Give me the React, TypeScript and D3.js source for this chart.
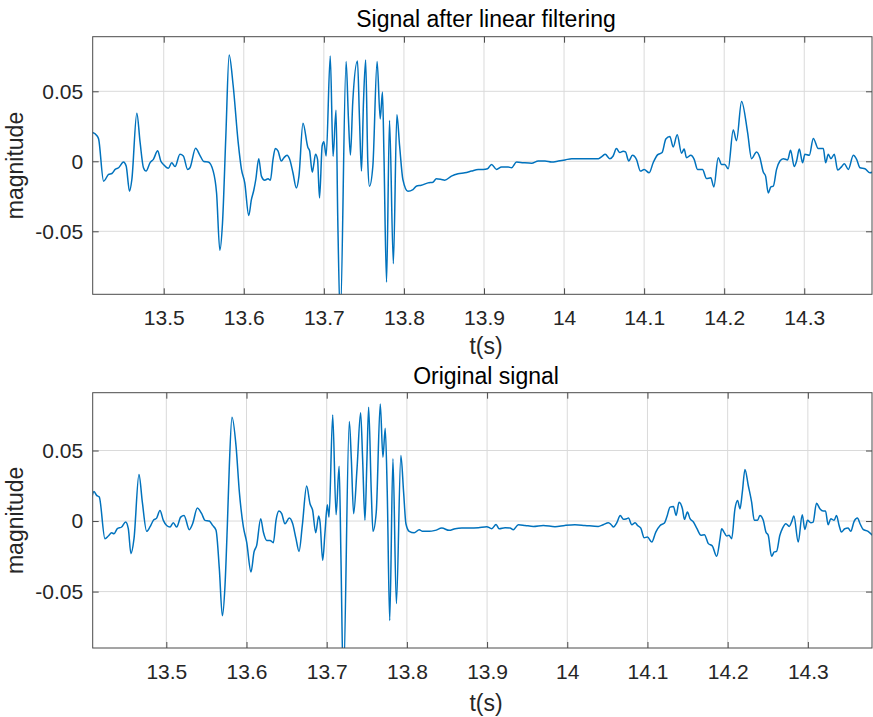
import React, { useRef, useEffect } from "react";
import * as d3 from "d3";

// (time in s, magnitude)
const filteredTime = [
  13.4104, 13.4166, 13.4187, 13.4249, 13.4311, 13.4353, 13.4394, 13.4436, 13.4498, 13.4531,
  13.4573, 13.4602, 13.4664, 13.4705, 13.4747, 13.478, 13.483, 13.4871, 13.4925, 13.4963,
  13.4996, 13.5058, 13.51, 13.5141, 13.5203, 13.5245, 13.5299, 13.5328, 13.5398, 13.5452,
  13.5502, 13.5556, 13.5618, 13.566, 13.5701, 13.5734, 13.5776, 13.5817, 13.5867, 13.593,
  13.5971, 13.6012, 13.6062, 13.6095, 13.6125, 13.615, 13.6187, 13.622, 13.6261, 13.6303,
  13.6332, 13.6365, 13.6394, 13.6427, 13.6469, 13.6502, 13.654, 13.6573, 13.6614, 13.6656,
  13.6689, 13.6739, 13.6801, 13.6822, 13.6855, 13.6871, 13.6896, 13.6921, 13.6946, 13.6979,
  13.7, 13.7029, 13.708, 13.7115, 13.7152, 13.7174, 13.7205, 13.7278, 13.7307, 13.7332,
  13.7361, 13.742, 13.7445, 13.747, 13.7495, 13.7522, 13.7549, 13.757, 13.7612, 13.7665,
  13.7704, 13.7732, 13.775, 13.7783, 13.782, 13.7868, 13.7912, 13.7946, 13.7987, 13.805,
  13.8113, 13.8154, 13.8217, 13.8301, 13.8363, 13.8405, 13.8468, 13.8509, 13.8593, 13.8676,
  13.876, 13.8843, 13.8927, 13.899, 13.9044, 13.9094, 13.9157, 13.9219, 13.9303, 13.9344,
  13.9407, 13.9491, 13.9595, 13.9678, 13.9762, 13.9845, 13.9929, 14.0013, 14.0096, 14.018,
  14.0263, 14.043, 14.0472, 14.0514, 14.0571, 14.0613, 14.0654, 14.0696, 14.0738, 14.0767,
  14.0808, 14.0854, 14.0904, 14.0954, 14.1, 14.1063, 14.1113, 14.1167, 14.1225, 14.1271,
  14.1321, 14.1363, 14.1413, 14.1467, 14.15, 14.1529, 14.1583, 14.1625, 14.1667, 14.1729,
  14.1779, 14.1833, 14.1871, 14.1925, 14.1967, 14.2008, 14.205, 14.2113, 14.2154, 14.2217,
  14.2292, 14.2342, 14.2404, 14.2446, 14.2488, 14.2517, 14.255, 14.2583, 14.2613, 14.2654,
  14.2696, 14.2738, 14.2792, 14.2829, 14.2875, 14.2904, 14.2938, 14.2979, 14.3008, 14.3063,
  14.3113, 14.3175, 14.3238, 14.3267, 14.33, 14.3333, 14.3375, 14.3417, 14.3467, 14.35,
  14.355, 14.3613, 14.3654, 14.3696, 14.3758, 14.3821, 14.3858,
];
const filteredMag = [
  0.0207, 0.0183, 0.0159, -0.0142, -0.0094, -0.0087, -0.0058, -0.0046, -0.0005, -0.0034,
  -0.0214, -0.013, 0.0344, 0.0135, -0.0046, -0.007, -0.001, 0.0014, 0.0075, 0.0002,
  -0.0022, -0.005, -0.001, -0.0038, 0.005, 0.0038, -0.0058, -0.0046, 0.0094, 0.0043,
  -0.0002, -0.0005, -0.007, -0.0226, -0.0635, -0.0442, 0.0183, 0.076, 0.0543, 0.0135,
  -0.0058, -0.0154, -0.0387, -0.0274, -0.0207, -0.013, 0.0019, -0.0106, -0.0135, -0.0125,
  -0.0135, 0.0014, 0.0091, 0.0075, 0.0002, 0.0026, 0.0043, 0.0014, -0.0082, -0.019,
  -0.0106, 0.0272, 0.0099, 0.0075, -0.0077, -0.0034, 0.005, 0.0014, -0.0262, 0.0111,
  0.0139, 0.0038, 0.0752, 0.0036, 0.0365, -0.0418, -0.112, 0.0712, 0.0303, 0.0045,
  0.0423, 0.0716, 0.0303, -0.007, 0.0423, 0.0724, -0.001, -0.0178, -0.0034, 0.0712,
  0.0303, 0.0495, 0.0063, -0.0863, 0.0291, -0.0731, 0.0332, 0.0111, -0.013, -0.0214,
  -0.0202, -0.0178, -0.0171, -0.0154, -0.0149, -0.0125, -0.013, -0.0135, -0.0106, -0.0089,
  -0.0082, -0.007, -0.0058, -0.0058, -0.0053, -0.0022, -0.0058, -0.0041, -0.0041, -0.0046,
  -0.0005, -0.001, -0.0014, 0.0002, 0.0002, -0.0005, 0.0002, 0.001, 0.0019, 0.0019,
  0.0019, 0.0019, 0.0034, 0.005, 0.0019, 0.0038, 0.0091, 0.0063, 0.0072, 0.0067,
  0.0002, 0.0043, 0.0014, -0.007, -0.0058, -0.0082, -0.001, 0.0046, 0.0063, 0.0159,
  0.0178, 0.0103, 0.019, 0.0058, 0.0087, 0.0026, 0.0043, 0.0014, -0.0058, -0.0058,
  -0.0123, -0.0118, -0.0183, 0.0026, -0.0022, -0.0022, -0.0053, 0.0224, 0.0147, 0.0428,
  0.0207, 0.0019, 0.0067, 0.0026, -0.0077, -0.0106, -0.0226, -0.0183, -0.0178, -0.0058,
  0.0002, 0.0019, 0.001, 0.0079, -0.0038, 0.0002, 0.0087, -0.001, 0.005, 0.0043,
  0.0163, 0.0091, 0.0091, -0.001, 0.005, 0.0019, 0.005, -0.0063, -0.0038, -0.0017,
  -0.0058, 0.0043, 0.0014, -0.0046, -0.0053, -0.0082, -0.0077,
];

const originalTime = [
  13.4069, 13.4098, 13.4131, 13.4164, 13.4235, 13.4277, 13.4318, 13.4347, 13.4389, 13.4443,
  13.4493, 13.4526, 13.4559, 13.4597, 13.4659, 13.4701, 13.4755, 13.4796, 13.4838, 13.4879,
  13.4921, 13.4963, 13.5004, 13.5046, 13.5087, 13.5129, 13.5179, 13.5221, 13.5287, 13.5328,
  13.5387, 13.5441, 13.5482, 13.5536, 13.5578, 13.562, 13.5661, 13.5699, 13.5732, 13.5761,
  13.5786, 13.5819, 13.5869, 13.5911, 13.5961, 13.6002, 13.6056, 13.6094, 13.6127, 13.6177,
  13.621, 13.6252, 13.6293, 13.6335, 13.6368, 13.6405, 13.6439, 13.648, 13.6534, 13.6576,
  13.6617, 13.6655, 13.6696, 13.675, 13.6792, 13.6825, 13.6863, 13.69, 13.6917, 13.695,
  13.6979, 13.7008, 13.7029, 13.7075, 13.7117, 13.7155, 13.7178, 13.7207, 13.7282, 13.7307,
  13.7336, 13.7378, 13.7423, 13.7448, 13.7477, 13.7502, 13.7523, 13.7556, 13.7577, 13.7618,
  13.7668, 13.7701, 13.773, 13.7755, 13.7786, 13.7826, 13.7869, 13.7925, 13.7959, 13.7988,
  13.8029, 13.8091, 13.8154, 13.8195, 13.8278, 13.8353, 13.8436, 13.8527, 13.8602, 13.8685,
  13.8788, 13.8892, 13.8996, 13.9058, 13.9112, 13.915, 13.9224, 13.9287, 13.9328, 13.939,
  13.9473, 13.9577, 13.9701, 13.9847, 13.997, 14.0095, 14.022, 14.0386, 14.0448, 14.0514,
  14.0548, 14.0577, 14.0618, 14.066, 14.0701, 14.0743, 14.0763, 14.0805, 14.0846, 14.0876,
  14.0917, 14.0959, 14.1, 14.1054, 14.1104, 14.1158, 14.1212, 14.1241, 14.1282, 14.1324,
  14.1357, 14.1394, 14.1436, 14.1461, 14.1498, 14.1531, 14.1573, 14.1614, 14.1668, 14.171,
  14.1759, 14.1809, 14.1863, 14.1905, 14.1925, 14.1954, 14.1988, 14.2017, 14.205, 14.2091,
  14.2124, 14.2154, 14.2183, 14.2216, 14.2257, 14.2299, 14.2332, 14.2373, 14.2402, 14.2444,
  14.2477, 14.2506, 14.2548, 14.2581, 14.261, 14.2651, 14.2685, 14.2726, 14.2768, 14.2797,
  14.2826, 14.288, 14.293, 14.2963, 14.2996, 14.3037, 14.3066, 14.3108, 14.315, 14.3191,
  14.322, 14.3253, 14.3286, 14.3328, 14.3357, 14.339, 14.3419, 14.3461, 14.3502, 14.3535,
  14.3577, 14.3618, 14.3651, 14.3689, 14.3751, 14.3805,
];
const originalMag = [
  0.0163, 0.021, 0.0182, 0.017, -0.0125, -0.0106, -0.0083, -0.009, -0.0054, -0.0042,
  -0.0007, -0.0054, -0.0231, -0.0125, 0.033, 0.0134, -0.0073, -0.0042, 0.0005, 0.0021,
  0.0075, 0.0005, -0.0031, -0.0042, -0.0012, -0.0042, 0.0028, 0.004, -0.0061, -0.0019,
  0.0092, 0.0052, 0.0005, 0, -0.0031, -0.0066, -0.0337, -0.0672, -0.0455, -0.0031,
  0.0394, 0.0736, 0.0535, 0.0205, -0.0042, -0.0149, -0.0361, -0.0219, -0.0172, 0.0017,
  -0.0078, -0.0137, -0.0137, -0.0153, 0.0005, 0.0071, 0.0052, -0.0019, 0.0021, -0.0019,
  -0.0125, -0.0215, -0.0031, 0.0248, 0.0123, 0.0075, -0.0083, 0.0035, -0.0007, -0.0278,
  -0.0078, 0.0116, 0.0028, 0.0752, 0.0045, 0.0389, -0.0267, -0.115, 0.0705, 0.0441,
  0.0052, 0.037, 0.0767, 0.0441, 0.0005, 0.0441, 0.0807, 0.0205, -0.0073, 0.0064,
  0.083, 0.0453, 0.0658, 0.0205, -0.0705, 0.0441, -0.0585, 0.0465, 0.0205, -0.0019,
  -0.0073, -0.0083, -0.0061, -0.0073, -0.0073, -0.0066, -0.005, -0.0066, -0.0054, -0.005,
  -0.005, -0.0047, -0.004, -0.0054, -0.0024, -0.0054, -0.0047, -0.005, -0.0061, -0.0026,
  -0.0031, -0.0038, -0.0031, -0.004, -0.0031, -0.0026, -0.0031, -0.0038, -0.0026, -0.0012,
  -0.0026, -0.0042, -0.0012, 0.004, 0.0012, 0.0017, 0.0021, -0.0026, -0.0012, -0.0031,
  -0.005, -0.0118, -0.0113, -0.0149, -0.0078, -0.0031, -0.0014, 0.0028, 0.0099, 0.0104,
  0.004, 0.0134, 0.0087, 0.0012, 0.0064, 0.0017, -0.0007, -0.005, -0.0101, -0.0097,
  -0.016, -0.0177, -0.025, -0.0125, -0.0054, -0.0078, -0.0106, -0.0101, -0.0125, 0.0087,
  0.0146, 0.0087, 0.0205, 0.0366, 0.0252, 0.0134, 0.0005, 0.0005, 0.004, 0.0005,
  -0.0078, -0.0101, -0.025, -0.0219, -0.0215, -0.0101, -0.005, -0.0019, -0.0038, -0.0007,
  0.0035, -0.0149, 0.0045, -0.0059, 0.0005, -0.0012, -0.0007, 0.0127, 0.0087, 0.0071,
  0.0071, -0.0026, 0.0017, 0.0005, 0.004, -0.0031, -0.0078, -0.0054, -0.005, -0.0073,
  -0.0002, 0.0021, -0.0019, -0.0059, -0.0073, -0.0101,
];

const xTicks = [13.5, 13.6, 13.7, 13.8, 13.9, 14, 14.1, 14.2, 14.3];
const yTicks = [-0.05, 0, 0.05];
const titles = ["Signal after linear filtering", "Original signal"];
const xLabel = "t(s)";
const yLabel = "magnitude";

const W = 873;
const H = 717;
const LEFT = 92.7;
const RIGHT = 872;
const FONT = "'Liberation Sans', Arial, Helvetica, sans-serif";
const DARK = "#262626";
const BOX = "#4a4a4a";

const panels = [
  {
    title: titles[0], t: filteredTime, v: filteredMag,
    xDomain: [13.4113, 14.3846], yDomain: [-0.095, 0.089],
    top: 36.7, bottom: 294.3, titleY: 27, labelY: 354,
  },
  {
    title: titles[1], t: originalTime, v: originalMag,
    xDomain: [13.4082, 14.38], yDomain: [-0.09, 0.091],
    top: 392.7, bottom: 648, titleY: 384, labelY: 711,
  },
];

const App = () => {
  const svgRef = useRef(null);

  useEffect(() => {
    const svg = d3.select(svgRef.current);
    svg.selectAll("*").remove();

    panels.forEach((p, idx) => {
      const x = d3.scaleLinear().domain(p.xDomain).range([LEFT, RIGHT]);
      const y = d3.scaleLinear().domain(p.yDomain).range([p.bottom, p.top]);
      const g = svg.append("g");

      // grid
      g.append("g")
        .selectAll("line")
        .data(xTicks)
        .join("line")
        .attr("x1", (d) => x(d))
        .attr("x2", (d) => x(d))
        .attr("y1", p.top)
        .attr("y2", p.bottom)
        .attr("stroke", "#dadada")
        .attr("stroke-width", 1);
      g.append("g")
        .selectAll("line")
        .data(yTicks)
        .join("line")
        .attr("x1", LEFT)
        .attr("x2", RIGHT)
        .attr("y1", (d) => y(d))
        .attr("y2", (d) => y(d))
        .attr("stroke", "#dadada")
        .attr("stroke-width", 1);

      // signal, clipped to the axes box
      const clipId = `clip-${idx}`;
      svg.append("defs")
        .append("clipPath")
        .attr("id", clipId)
        .append("rect")
        .attr("x", LEFT)
        .attr("y", p.top)
        .attr("width", RIGHT - LEFT)
        .attr("height", p.bottom - p.top);

      const pts = p.t.map((t, i) => [t, p.v[i]]);
      const line = d3
        .line()
        .x((d) => x(d[0]))
        .y((d) => y(d[1]))
        .curve(d3.curveMonotoneX);
      g.append("path")
        .datum(pts)
        .attr("clip-path", `url(#${clipId})`)
        .attr("fill", "none")
        .attr("stroke", "#0072BD")
        .attr("stroke-width", 1.5)
        .attr("stroke-linejoin", "round")
        .attr("d", line);

      const styleAxis = (a) => {
        a.select(".domain").remove();
        a.attr("font-family", FONT).attr("font-size", 21);
        a.selectAll(".tick line").attr("stroke", BOX);
        a.selectAll(".tick text").attr("fill", DARK);
      };

      // axes with inward ticks, MATLAB style
      g.append("g")
        .attr("transform", `translate(0,${p.bottom})`)
        .call(d3.axisBottom(x).tickValues(xTicks).tickSize(-6).tickPadding(16).tickFormat((d) => String(d)))
        .call(styleAxis);
      g.append("g")
        .attr("transform", `translate(0,${p.top})`)
        .call(d3.axisTop(x).tickValues(xTicks).tickSize(-6).tickFormat(() => ""))
        .call(styleAxis);
      g.append("g")
        .attr("transform", `translate(${LEFT},0)`)
        .call(d3.axisLeft(y).tickValues(yTicks).tickSize(-6).tickPadding(9.5).tickFormat((d) => String(d)))
        .call(styleAxis);
      g.append("g")
        .attr("transform", `translate(${RIGHT},0)`)
        .call(d3.axisRight(y).tickValues(yTicks).tickSize(-6).tickFormat(() => ""))
        .call(styleAxis);

      g.append("rect")
        .attr("x", LEFT)
        .attr("y", p.top)
        .attr("width", RIGHT - LEFT)
        .attr("height", p.bottom - p.top)
        .attr("fill", "none")
        .attr("stroke", BOX)
        .attr("stroke-width", 1);

      // title and labels
      g.append("text")
        .attr("x", 486)
        .attr("y", p.titleY)
        .attr("text-anchor", "middle")
        .attr("font-family", FONT)
        .attr("font-size", 23)
        .attr("fill", "#000")
        .text(p.title);
      g.append("text")
        .attr("x", 486)
        .attr("y", p.labelY)
        .attr("text-anchor", "middle")
        .attr("font-family", FONT)
        .attr("font-size", 23)
        .attr("fill", DARK)
        .text(xLabel);
      g.append("text")
        .attr("transform", `translate(23,${(p.top + p.bottom) / 2}) rotate(-90)`)
        .attr("text-anchor", "middle")
        .attr("font-family", FONT)
        .attr("font-size", 23)
        .attr("fill", DARK)
        .text(yLabel);
    });
  }, []);

  return (
    <svg
      ref={svgRef}
      width={W}
      height={H}
      style={{ position: "absolute", left: 0, top: 0, background: "#fff" }}
    ></svg>
  );
};

export default App;
